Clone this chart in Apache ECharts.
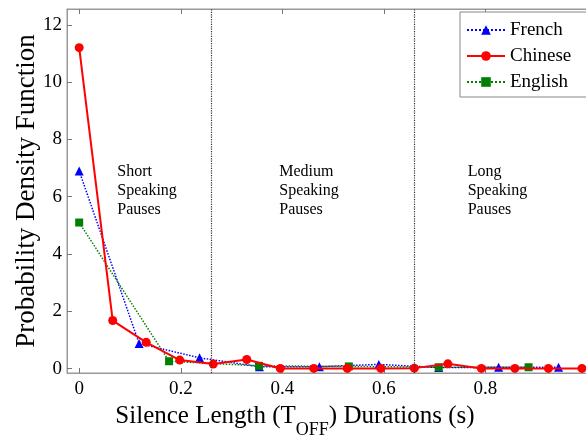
<!DOCTYPE html>
<html>
<head>
<meta charset="utf-8">
<script src="https://cdn.jsdelivr.net/npm/echarts@6/dist/echarts.min.js"></script>
<style>
  html, body { margin: 0; padding: 0; background: #fff; }
  #container { width: 586px; height: 436px; }
</style>
</head>
<body>
<div id="container"></div>
<script>
// values
var frenchX  = [0, 0.118, 0.237, 0.355, 0.473, 0.59, 0.708, 0.826, 0.944];
var frenchY  = [6.9, 0.88, 0.38, 0.07, 0.07, 0.15, 0.04, 0.05, 0.05];
var chineseX = [0, 0.066, 0.132, 0.198, 0.264, 0.33, 0.396, 0.462, 0.528, 0.594, 0.66, 0.726, 0.792, 0.858, 0.924, 0.99];
var chineseY = [11.2, 1.68, 0.92, 0.30, 0.16, 0.32, 0.01, 0.01, 0.01, 0.01, 0.02, 0.17, 0.01, 0.01, 0.01, 0.01];
var englishX = [0, 0.177, 0.354, 0.531, 0.708, 0.885];
var englishY = [5.1, 0.26, 0.10, 0.08, 0.05, 0.05];
var xTicks = [0, 0.2, 0.4, 0.6, 0.8];
var yTicks = [0, 2, 4, 6, 8, 10, 12];
var boundaries = [0.255, 0.655];   // short / medium / long limits
var regionNames = ['Short\nSpeaking\nPauses', 'Medium\nSpeaking\nPauses', 'Long\nSpeaking\nPauses'];
var regionX = [0.075, 0.394, 0.765];

var serif = 'Liberation Serif';
var frame = '#999';

function pairs(xs, ys) {
  return xs.map(function (x, i) { return [x, ys[i]]; });
}

var dom = document.getElementById('container');
var myChart = echarts.init(dom, null, { renderer: 'canvas' });

var option = {
  animation: false,
  grid: {
    left: 67, right: -1, top: 9, bottom: 63,
    outerBoundsMode: 'none', containLabel: false,
    show: true, borderColor: frame, borderWidth: 1
  },
  legend: {
    orient: 'vertical',
    left: 460, top: 12,
    padding: [8, 20, 5, 6],
    itemGap: 6,
    itemWidth: 38, itemHeight: 12,
    backgroundColor: '#fff',
    borderColor: '#888', borderWidth: 1,
    textStyle: { fontFamily: serif, fontSize: 19, color: '#000', lineHeight: 20 },
    data: ['French', 'Chinese', 'English']
  },
  xAxis: [{
    type: 'value', min: -0.024, max: 1.0, position: 'bottom',
    axisLine: { onZero: false, lineStyle: { color: frame } },
    axisTick: { inside: true, length: 5, customValues: xTicks, lineStyle: { color: '#777' } },
    axisLabel: {
      customValues: xTicks, margin: 7,
      fontFamily: serif, fontSize: 19, color: '#000',
      formatter: function (v) { return v === 0 ? '0' : v.toFixed(1); }
    },
    splitLine: { show: false },
    name: 'Silence Length (T{sub|OFF}) Durations (s)',
    nameLocation: 'middle', nameGap: 20, nameMoveOverlap: false,
    nameTextStyle: {
      fontFamily: serif, fontSize: 25, color: '#000', padding: [0, 64, 0, 0],
      rich: { sub: { fontFamily: serif, fontSize: 18, color: '#000', padding: [28, 0, 0, 0], verticalAlign: 'bottom' } }
    }
  }, {
    type: 'value', min: -0.024, max: 1.0, position: 'top',
    axisLine: { onZero: false, lineStyle: { color: frame } },
    axisTick: { inside: true, length: 5, customValues: xTicks, lineStyle: { color: '#777' } },
    axisLabel: { show: false },
    splitLine: { show: false }
  }],
  yAxis: {
    type: 'value', min: -0.15, max: 12.55,
    axisLine: { show: true, onZero: false, lineStyle: { color: frame } },
    axisTick: { show: true, inside: true, length: 5, customValues: yTicks, lineStyle: { color: '#777' } },
    axisLabel: { customValues: yTicks, margin: 5, fontFamily: serif, fontSize: 19, color: '#000' },
    splitLine: { show: false },
    name: 'Probability Density Function',
    nameLocation: 'middle', nameGap: 27, nameMoveOverlap: false,
    nameTextStyle: { fontFamily: serif, fontSize: 27, color: '#000' }
  },
  series: [
    {
      name: 'French', type: 'line', data: pairs(frenchX, frenchY),
      symbol: 'triangle', symbolSize: 9,
      itemStyle: { color: '#0000ff' },
      lineStyle: { color: '#0000ff', width: 1.5, type: 'dotted' },
      z: 3,
      markPoint: {
        silent: true, symbol: 'circle', symbolSize: 0,
        label: {
          show: true, position: 'right', distance: 0,
          fontFamily: serif, fontSize: 16, lineHeight: 19, color: '#000', align: 'left', verticalAlign: 'top',
          formatter: function (p) { return p.name; }
        },
        data: regionNames.map(function (n, i) { return { name: n, coord: [regionX[i], 7.2] }; })
      }
    },
    {
      name: 'Chinese', type: 'line', data: pairs(chineseX, chineseY),
      symbol: 'circle', symbolSize: 9,
      itemStyle: { color: '#ff0000' },
      lineStyle: { color: '#ff0000', width: 2 },
      z: 4,
      markLine: {
        silent: true, symbol: 'none', label: { show: false },
        lineStyle: { color: '#333', width: 1.2, type: 'dotted' },
        data: boundaries.map(function (b) { return { xAxis: b }; })
      }
    },
    {
      name: 'English', type: 'line', data: pairs(englishX, englishY),
      symbol: 'rect', symbolSize: 8,
      itemStyle: { color: '#008000' },
      lineStyle: { color: '#008000', width: 1.5, type: 'dotted' },
      z: 3
    }
  ]
};

myChart.setOption(option);
window.addEventListener('resize', myChart.resize);
</script>
</body>
</html>
